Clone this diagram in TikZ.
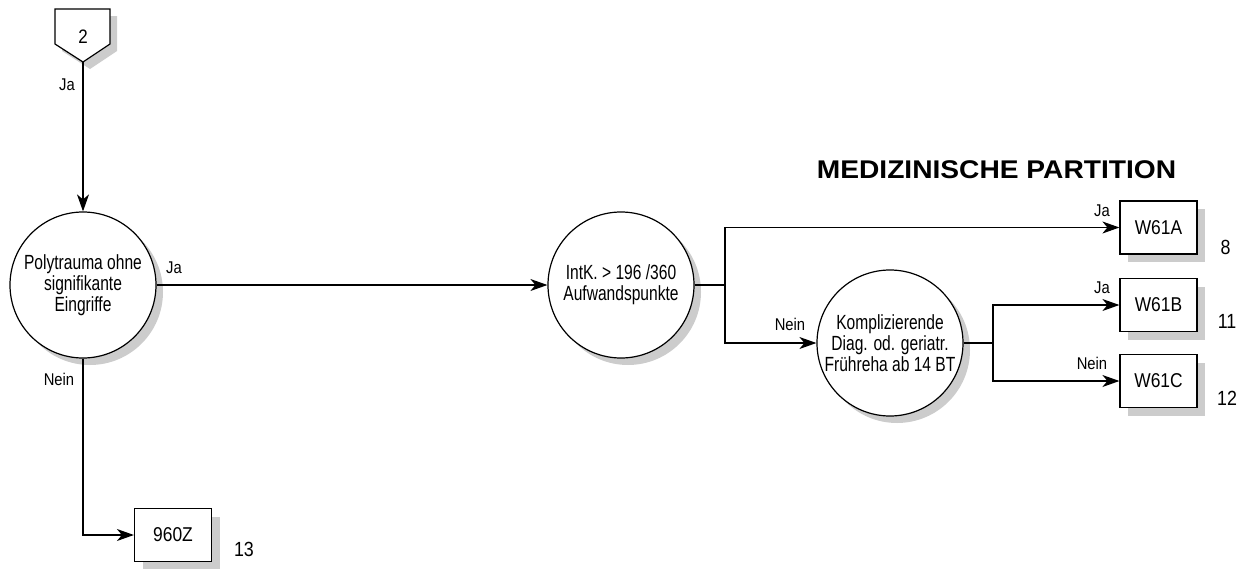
\documentclass[tikz,border=0pt]{standalone}
\usepackage{fontspec}
\setmainfont{Liberation Sans}
\newfontfamily\schmal[FakeStretch=0.76]{Liberation Sans}
\newfontfamily\mittel[FakeStretch=0.87]{Liberation Sans}
\newfontfamily\breit[FakeStretch=1.1]{Liberation Sans}
\usetikzlibrary{arrows.meta, shadows}

\begin{document}
\begin{tikzpicture}[x=1pt, y=-1pt,
    schatten/.style={drop shadow={shadow xshift=#1, shadow yshift=-#1, fill=gray!40, opacity=1}},
    frage/.style={circle, draw, line width=1.2pt, fill=white, minimum size=146pt, inner sep=0pt,
        align=center, font=\schmal\fontsize{20.5}{21}\selectfont, schatten=7pt},
    drg/.style={rectangle, draw, line width=1.2pt, fill=white, minimum width=77pt, minimum height=53pt,
        font=\mittel\fontsize{20}{22}\selectfont, schatten=8pt},
    lbl/.style={font=\mittel\fontsize{17}{19}\selectfont, inner sep=0pt},
    nr/.style={font=\mittel\fontsize{20.5}{22}\selectfont, inner sep=0pt},
    pfeil/.style={line width=1.2pt, -{Stealth[length=17pt, width=12pt, inset=5pt]}},
    linie/.style={line width=1.2pt}]
    \useasboundingbox (0,0) rectangle (1251,568);

    % Konnektor 2
    \fill[gray!40] (62,16) -- (117,16) -- (117,51) -- (90,69) -- (62,51) -- cycle;
    \filldraw[fill=white, line width=1.2pt] (55,9) -- (110,9) -- (110,44) -- (83,62) -- (55,44) -- cycle;
    \node[font=\mittel\fontsize{19.5}{21}\selectfont, inner sep=0pt] (k2) at (83,37) {2};
    \coordinate (k2spitze) at (83,62);

    \node[font=\breit\bfseries\fontsize{25.6}{28}\selectfont, inner sep=0pt] (titel) at (996.5,170) {MEDIZINISCHE PARTITION};

    \node[frage] (poly) at (83,285) {Polytrauma ohne\\signifikante\\Eingriffe};
    \node[frage] (intk) at (621,285) {IntK. > 196 /360\\Aufwandspunkte};
    \node[frage] (kompl) at (890,343) {Komplizierende\\Diag. od. geriatr.\\Frühreha ab 14 BT};

    \node[drg] (w61a) at (1158.5,227.5) {W61A};
    \node[drg] (w61b) at (1158.5,305) {W61B};
    \node[drg] (w61c) at (1158.5,381) {W61C};
    \node[drg] (z960) at (173,535) {960Z};

    \node[nr] (nr8) at (1225.5,247) {8};
    \node[nr] (nr11) at (1227,321) {11};
    \node[nr] (nr12) at (1227,398) {12};
    \node[nr] (nr13) at (244,549) {13};

    \coordinate (verz1) at (725,285);
    \coordinate (verz2) at (993,343);

    \draw[pfeil] (k2spitze) -- (poly);
    \draw[pfeil] (poly) -- (intk);
    \draw[pfeil] (poly.south) |- (z960.west);
    \draw[linie] (intk.east) -- (verz1);
    \draw[pfeil] (verz1) |- (w61a.west);
    \draw[pfeil] (verz1) |- (kompl.west);
    \draw[linie] (kompl.east) -- (verz2);
    \draw[pfeil] (verz2) |- (w61b.west);
    \draw[pfeil] (verz2) |- (w61c.west);

    \node[lbl] (ja0) at (67,85) {Ja};
    \node[lbl] (ja1) at (174,268) {Ja};
    \node[lbl] (nein1) at (59,379) {Nein};
    \node[lbl] (nein2) at (790,324) {Nein};
    \node[lbl] (ja2) at (1102,211) {Ja};
    \node[lbl] (ja3) at (1102,288) {Ja};
    \node[lbl] (nein3) at (1092,363) {Nein};
\end{tikzpicture}
\end{document}
